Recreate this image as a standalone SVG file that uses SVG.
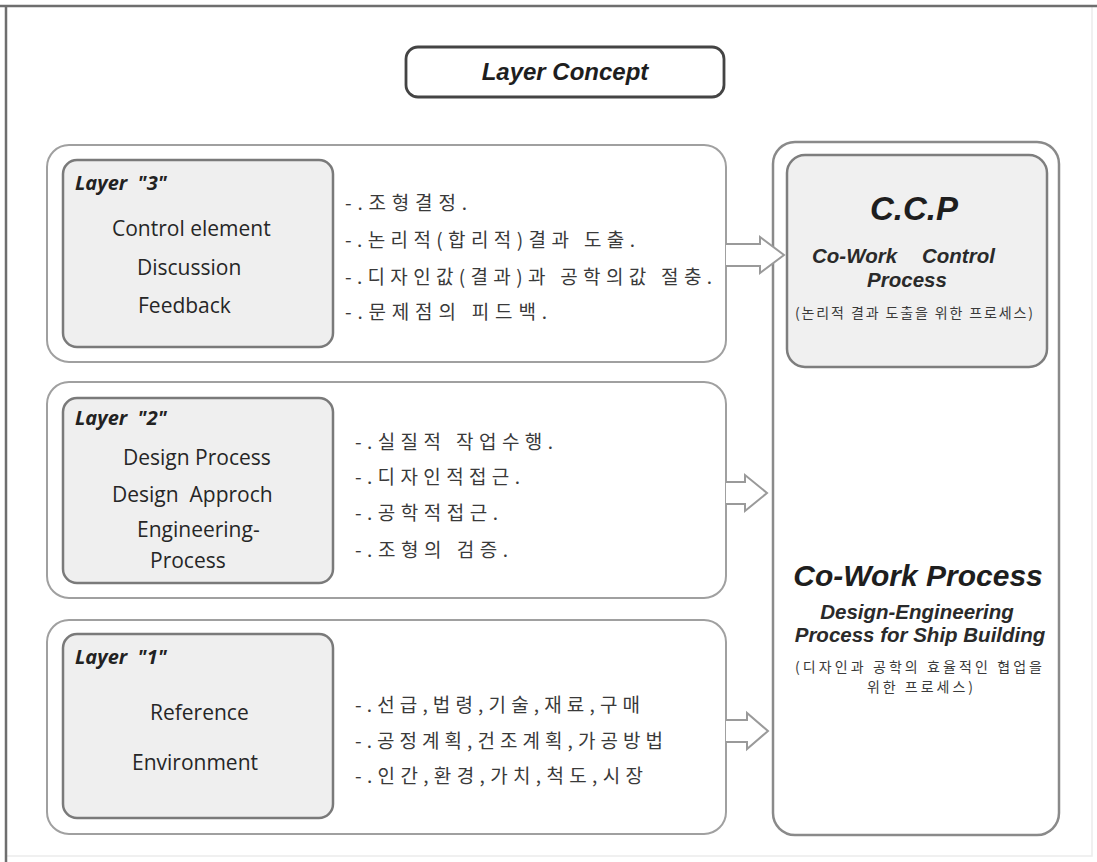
<svg xmlns="http://www.w3.org/2000/svg" width="1097" height="862" viewBox="0 0 1097 862">
  <style>
    .frame { stroke: #6e6e6e; stroke-width: 2.5; fill: none; }
    .frame-faint { stroke: #ececec; stroke-width: 1.5; fill: none; }
    .title-box { fill: #ffffff; stroke: #444444; stroke-width: 2.8; }
    .layer-box { fill: #ffffff; stroke: #a0a0a0; stroke-width: 2; }
    .layer-inner { fill: #efefef; stroke: #7a7a7a; stroke-width: 2.5; }
    .side-box { fill: #ffffff; stroke: #8a8a8a; stroke-width: 2.5; }
    .ccp-box { fill: #f0f0f0; stroke: #7e7e7e; stroke-width: 2.5; }
    .arrow { fill: #ffffff; stroke: #9a9a9a; stroke-width: 2; stroke-linejoin: miter; }
    .title { font-family: "Liberation Sans", Arial, sans-serif; font-weight: bold; font-style: italic; font-size: 24px; fill: #1e1e1e; }
    .layer-label { font-family: "Open Sans", "Liberation Sans", sans-serif; font-weight: bold; font-style: italic; font-size: 20px; fill: #222; white-space: pre; }
    .item { font-family: "Open Sans", "Liberation Sans", sans-serif; font-size: 21px; fill: #262626; white-space: pre; }
    .ko { font-family: "Noto Sans CJK KR", sans-serif; font-size: 19px; fill: #3a3a3a; }
    .ko-small { font-family: "Noto Sans CJK KR", sans-serif; font-size: 14px; fill: #3a3a3a; }
    .head-big { font-family: "Liberation Sans", Arial, sans-serif; font-weight: bold; font-style: italic; fill: #1e1e1e; }
    .head-sub { font-family: "Liberation Sans", Arial, sans-serif; font-weight: bold; font-style: italic; font-size: 20.5px; fill: #2a2a2a; }
  </style>

  <rect width="1097" height="862" fill="#ffffff"/>

  <!-- page frame -->
  <path class="frame-faint" d="M1092,6 V856 H6"/>
  <path class="frame" d="M0,6 H1097 M6,6 V862"/>

  <!-- heading -->
  <g id="title">
    <rect class="title-box" x="406" y="47" width="318" height="50" rx="12"/>
    <text class="title" x="565" y="80" text-anchor="middle">Layer Concept</text>
  </g>

  <!-- layer 3 -->
  <g id="layer3">
    <rect class="layer-box" x="47" y="145" width="679" height="217" rx="22"/>
    <rect class="layer-inner" x="63" y="160" width="270" height="187" rx="14"/>
    <text class="layer-label" x="75" y="190">Layer  "3"</text>
    <text class="item" x="112" y="236">Control element</text>
    <text class="item" x="137" y="275">Discussion</text>
    <text class="item" x="138" y="313">Feedback</text>
    <text class="ko" x="345" y="210" textLength="122" lengthAdjust="spacing">-.조형결정.</text>
    <text class="ko" x="345" y="247" textLength="290" lengthAdjust="spacing">-.논리적(합리적)결과 도출.</text>
    <text class="ko" x="345" y="284" textLength="367" lengthAdjust="spacing">-.디자인값(결과)과 공학의값 절충.</text>
    <text class="ko" x="345" y="319" textLength="202" lengthAdjust="spacing">-.문제점의 피드백.</text>
  </g>

  <!-- layer 2 -->
  <g id="layer2">
    <rect class="layer-box" x="47" y="382" width="679" height="216" rx="22"/>
    <rect class="layer-inner" x="63" y="398" width="270" height="185" rx="14"/>
    <text class="layer-label" x="75" y="425">Layer  "2"</text>
    <text class="item" x="123" y="465">Design Process</text>
    <text class="item" x="112" y="502">Design  Approch</text>
    <text class="item" x="137" y="537">Engineering-</text>
    <text class="item" x="150" y="568">Process</text>
    <text class="ko" x="355" y="449" textLength="198" lengthAdjust="spacing">-.실질적 작업수행.</text>
    <text class="ko" x="355" y="484" textLength="165" lengthAdjust="spacing">-.디자인적접근.</text>
    <text class="ko" x="355" y="520" textLength="143" lengthAdjust="spacing">-.공학적접근.</text>
    <text class="ko" x="355" y="557" textLength="153" lengthAdjust="spacing">-.조형의 검증.</text>
  </g>

  <!-- layer 1 -->
  <g id="layer1">
    <rect class="layer-box" x="47" y="620" width="679" height="214" rx="22"/>
    <rect class="layer-inner" x="63" y="634" width="270" height="184" rx="14"/>
    <text class="layer-label" x="75" y="664">Layer  "1"</text>
    <text class="item" x="150" y="720">Reference</text>
    <text class="item" x="132" y="770">Environment</text>
    <text class="ko" x="355" y="712" textLength="285" lengthAdjust="spacing">-.선급,법령,기술,재료,구매</text>
    <text class="ko" x="355" y="748" textLength="308" lengthAdjust="spacing">-.공정계획,건조계획,가공방법</text>
    <text class="ko" x="355" y="783" textLength="288" lengthAdjust="spacing">-.인간,환경,가치,척도,시장</text>
  </g>

  <!-- co-work process column -->
  <g id="cowork">
    <rect class="side-box" x="773" y="142" width="286" height="693" rx="22"/>
    <text class="head-big" x="918" y="586" font-size="30" text-anchor="middle">Co-Work Process</text>
    <text class="head-sub" x="917" y="619" font-size="20" text-anchor="middle">Design-Engineering</text>
    <text class="head-sub" x="920" y="642" font-size="20" text-anchor="middle">Process for Ship Building</text>
    <text class="ko-small" x="795" y="672" textLength="247" lengthAdjust="spacing">(디자인과 공학의 효율적인 협업을</text>
    <text class="ko-small" x="867" y="692" textLength="106" lengthAdjust="spacing">위한 프로세스)</text>
  </g>

  <!-- control process box -->
  <g id="ccp">
    <rect class="ccp-box" x="787" y="155" width="260" height="212" rx="18"/>
    <text class="head-big" x="914" y="220" font-size="33" text-anchor="middle">C.C.P</text>
    <text class="head-sub" x="812" y="263">Co-Work</text>
    <text class="head-sub" x="922" y="263">Control</text>
    <text class="head-sub" x="907" y="287" text-anchor="middle">Process</text>
    <text class="ko-small" x="795" y="318" textLength="238" lengthAdjust="spacing">(논리적 결과 도출을 위한 프로세스)</text>
  </g>

  <!-- block arrows from each layer into the process column -->
  <g id="connectors">
    <path class="arrow" d="M726,244 H760 V237 L784,255 L760,273 V266 H726"/>
    <path class="arrow" d="M726,482 H745 V475 L767,493 L745,511 V504 H726"/>
    <path class="arrow" d="M726,720 H747 V713 L768,731 L747,749 V742 H726"/>
  </g>
</svg>
